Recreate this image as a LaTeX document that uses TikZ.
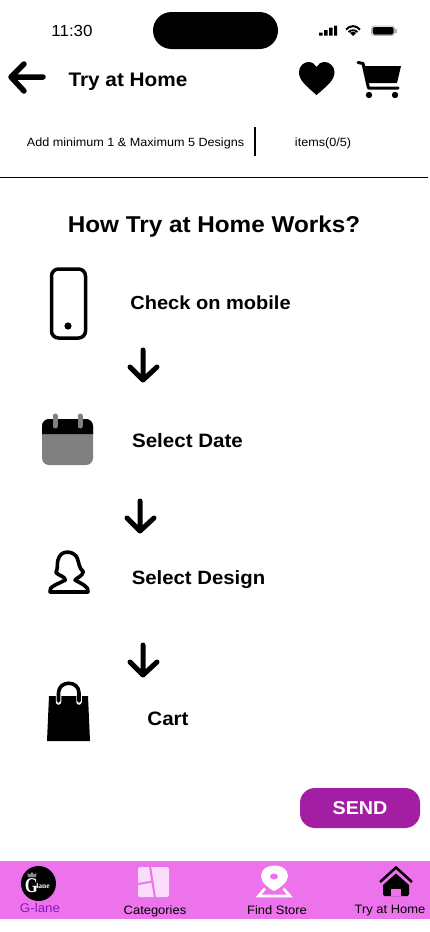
\documentclass[tikz,border=0pt]{standalone}
\usepackage{fontspec}
\setmainfont{Liberation Sans}[FakeStretch=1.06]
\newfontfamily\logofont{Liberation Serif}
\definecolor{barpink}{HTML}{ED73ED}
\definecolor{sendpurple}{HTML}{A31EA3}
\definecolor{labelpurple}{HTML}{8A14BE}
\definecolor{palepink}{HTML}{FBDDFB}
\tikzset{
  txt/.style={inner sep=0pt,anchor=center,text=black},
  small/.style={txt,font=\fontsize{11.9}{14}\selectfont},
  steplabel/.style={txt,font=\bfseries\fontsize{19.2}{24}\selectfont},
  tablabel/.style={txt,font=\fontsize{12.2}{14}\selectfont},
  downarrow/.style={line width=5pt,line cap=round,line join=round},
}
\begin{document}
\begin{tikzpicture}[x=1pt,y=-1pt]
\useasboundingbox (0,0) rectangle (430,932);
\fill[white] (0,0) rectangle (430,932);
% status bar
\node[txt,font=\fontsize{16}{20}\selectfont] (clock) at (72,31) {11:30};
\fill[black,rounded corners=18.5pt] (153,12) rectangle (278,49);
\fill (319,32.5) rectangle (322.5,35.5) (324,30) rectangle (327.5,35.5) (329,27.5) rectangle (332.5,35.5) (334,25.5) rectangle (337,35.5);
\fill (353,36) -- (349.8,32.8) .. controls (351.5,31.2) and (354.5,31.2) .. (356.2,32.8) -- cycle;
\draw[line width=2pt] (346,29.6) .. controls (350,25) and (356,25) .. (360,29.6);
\draw[line width=1.8pt] (348.5,32) .. controls (351,29.6) and (355,29.6) .. (357.5,32);
\draw[gray!60,line width=.8pt,rounded corners=2.5pt] (371.5,26) rectangle (394.5,35.5);
\fill[rounded corners=1.5pt] (372.5,27) rectangle (393.5,34.5);
\fill[gray!60] (395.2,29) rectangle (396.8,32.5);
% header
\draw[line width=5.5pt,line cap=round,line join=round] (43,77) -- (12,77) (24,64) -- (11,77) -- (24,91);
\node[txt,font=\bfseries\fontsize{19.6}{24}\selectfont] (title) at (128,81.5) {Try at Home};
\fill (316.5,95) .. controls (305,85) and (299,80) .. (299,72) .. controls (299,66) and (304,62) .. (308.5,62) .. controls (312,62) and (315,64) .. (316.5,67) .. controls (318,64) and (321,62) .. (325,62) .. controls (329,62) and (334.5,66) .. (334.5,72) .. controls (334.5,80) and (328,85) .. (316.5,95) -- cycle;
\fill (365,66) -- (401,66) -- (397,83) -- (368,83) -- cycle;
\draw[line width=3pt,line join=round,line cap=round] (358,62.5) -- (363,63.5) -- (368.5,88) -- (398,88);
\fill (369,95) circle[radius=3.2pt] (395,95) circle[radius=3.2pt];
% sub header
\node[small] (hint) at (135.5,143) {Add minimum 1 \& Maximum 5 Designs};
\draw[line width=2pt] (255,127) -- (255,156);
\node[small] (items) at (323,143) {items(0/5)};
\draw[line width=1pt] (0,177.5) -- (428,177.5);
% heading
\node[txt,font=\bfseries\fontsize{22.9}{28}\selectfont] (heading) at (214,226.5) {How Try at Home Works?};
% phone
\draw[line width=3.5pt,rounded corners=7pt] (51.5,269) rectangle (85.5,338);
\fill (68,326) circle[radius=3.6pt];
\node[steplabel,font=\bfseries\fontsize{18.9}{24}\selectfont] (s1) at (210.5,302.5) {Check on mobile};
\draw[downarrow] (143,350) -- (143,379) (130,367) -- (143,380) -- (157,367);
% calendar
\fill[black!50,rounded corners=7pt] (42,419) rectangle (93,465);
\fill[black] (42,434) -- (42,426) arc[start angle=180,end angle=90,radius=7pt] -- (86,419) arc[start angle=90,end angle=0,radius=7pt] -- (93,434) -- cycle;
\draw[black!50,line width=5pt,line cap=round] (55,416) -- (55,426) (80,416) -- (80,426);
\node[steplabel,font=\bfseries\fontsize{19.4}{24}\selectfont] (s2) at (187.5,440.5) {Select Date};
\draw[downarrow] (140,501) -- (140,530) (127,518) -- (140,531) -- (154,518);
% person
\begin{scope}[shift={(20,490)},x=.3333pt,y=-.3333pt]
\draw[line width=3.6pt,line join=round,line cap=round] (90,306) -- (204,306) .. controls (208,290) and (185,282) .. (165,270) .. controls (172,262) and (188,258) .. (190,245) .. controls (178,238) and (176,215) .. (172,205) .. controls (165,185) and (130,178) .. (118,200) .. controls (108,215) and (116,232) .. (108,248) .. controls (118,258) and (134,258) .. (136,270) .. controls (115,282) and (84,290) .. (90,306) -- cycle;
\end{scope}
\node[steplabel] (s3) at (198.5,580) {Select Design};
\draw[downarrow] (143,645) -- (143,674) (130,662) -- (143,675) -- (157,662);
% bag
\fill (49,696) -- (88,696) -- (90,741) -- (47,741) -- cycle;
\draw[white,line width=5.5pt,line cap=round] (58.5,702) -- (58.5,693) .. controls (58.5,679) and (79,679) .. (79,693) -- (79,702);
\draw[line width=3.6pt,line cap=round] (58.5,701) -- (58.5,693) .. controls (58.5,680) and (79,680) .. (79,693) -- (79,701);
\node[steplabel,font=\bfseries\fontsize{19.4}{24}\selectfont] (s4) at (168,718.5) {Cart};
% send button
\node[fill=sendpurple,rounded corners=15pt,minimum width=120pt,minimum height=40pt,inner sep=0pt,text=white,font=\bfseries\fontsize{18.6}{24}\selectfont] (send) at (360,808) {SEND};
% tab bar
\fill[barpink] (0,861) rectangle (430,919);
% g-lane
\fill[black] (38.5,883.5) circle[radius=17.5pt];
\fill[black!45] (28,877) -- (27.5,873) -- (30,874.5) -- (32,872) -- (34,874.5) -- (36.5,873) -- (36,877) -- cycle;
\node[txt,text=white,xscale=.8,font=\logofont\bfseries\fontsize{21}{22}\selectfont] (glogo) at (31.5,885.5) {G};
\node[txt,text=white,font=\logofont\bfseries\fontsize{7.5}{8}\selectfont] (lane) at (43,886) {lane};
\node[tablabel,text=labelpurple,font=\fontsize{12.6}{14}\selectfont] (t1) at (40,907.5) {G-lane};
% categories
\fill[palepink,rounded corners=1.5pt] (138,867) rectangle (169,897);
\draw[barpink,line width=2pt] (137,884.2) -- (153,881.5) (150,866) -- (155,898);
\node[tablabel] (t2) at (155,911) {Categories};
% find store
\fill[white] (274,891) .. controls (268,888) and (261,882) .. (261,876) .. controls (261,862) and (288,862) .. (288,876) .. controls (288,882) and (280,888) .. (274,891) -- cycle;
\fill[barpink] (274,876.5) ellipse[x radius=4pt,y radius=3pt];
\draw[white,line width=2.6pt] (265,888.5) -- (258.5,896) -- (290,896) -- (283.5,888.5);
\node[tablabel] (t3) at (277,910) {Find Store};
% home
\draw[line width=2.5pt,line join=miter] (380,882) -- (396,867.5) -- (412,882);
\fill (396,873.5) -- (409,885) -- (409,893) [rounded corners=2pt] -- (409,896) -- (383,896) [sharp corners] -- (383,885) -- cycle;
\fill[barpink] (391,896) -- (391,888.5) -- (401,888.5) -- (401,896) -- cycle;
\node[tablabel] (t4) at (390,911) {Try at Home};
\end{tikzpicture}
\end{document}
